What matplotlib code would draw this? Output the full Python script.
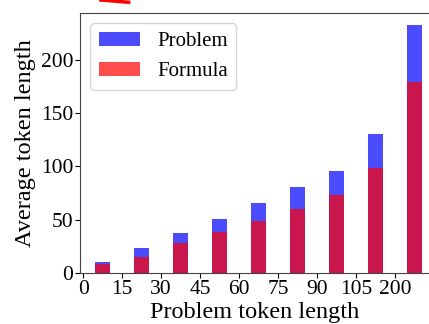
import matplotlib
matplotlib.use("Agg")
import matplotlib.pyplot as plt
import numpy as np

tick_labels = ["0", "15", "30", "45", "60", "75", "90", "105", "200"]
problem = [10.6, 23.7, 37.2, 51, 66, 81, 96, 130.4, 232.6]
formula = [8.2, 15.3, 27.8, 38.8, 49, 60, 73, 98.8, 179]

plt.rcParams['font.family'] = ['Liberation Serif', 'DejaVu Serif']

fig = plt.figure(figsize=(4.29, 3.24), dpi=100)
ax = fig.add_axes([80/429, 1-273/324, 1-80/429, (273-13)/324])

x = np.arange(len(problem)) + 0.5
ax.bar(x, problem, width=0.39, color='blue', alpha=0.7, label='Problem')
ax.bar(x, formula, width=0.39, color='red', alpha=0.7, label='Formula')

ax.set_xticks(np.arange(len(tick_labels)))
ax.set_xticklabels(tick_labels)
ax.set_xlim(-0.08, 8.87)
ax.set_ylim(0, 244)
ax.set_yticks([0, 50, 100, 150, 200])
ax.tick_params(labelsize=15.5, length=3.5, width=0.8, pad=1.5)
ax.spines['right'].set_visible(False)
for s in ['left', 'top', 'bottom']:
    ax.spines[s].set_color('#444444')
ax.set_xlabel('Problem token length', fontsize=17.5, labelpad=2)
ax.set_ylabel('Average token length', fontsize=17.5, labelpad=3)
ax.legend(loc='upper left', fontsize=15, handlelength=2.0, handleheight=0.7,
          borderaxespad=0.5, framealpha=0.8)

fig.add_artist(plt.Line2D([0.235, 0.30], [1.0, 0.993], transform=fig.transFigure,
                          color='red', lw=2.5))

fig.savefig('out.png', dpi=100)
